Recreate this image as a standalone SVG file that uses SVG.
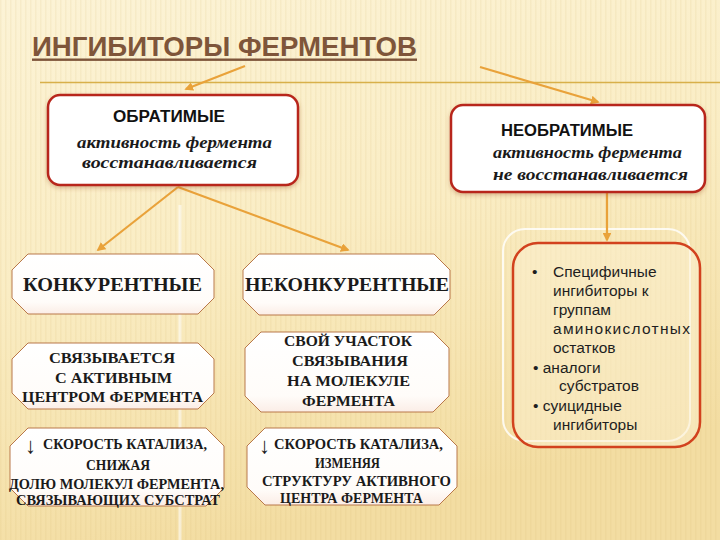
<svg xmlns="http://www.w3.org/2000/svg" width="720" height="540" viewBox="0 0 720 540">
<defs>
<linearGradient id="bg" x1="0" y1="0" x2="0.3" y2="1">
<stop offset="0" stop-color="#FCF3D6"/>
<stop offset="0.5" stop-color="#FAEDC4"/>
<stop offset="1" stop-color="#F3DDA2"/>
</linearGradient>
<pattern id="stripes" width="5" height="540" patternUnits="userSpaceOnUse">
<rect x="0" y="0" width="1.5" height="540" fill="#D9B86A" opacity="0.12"/>
</pattern>
<linearGradient id="oct" x1="0" y1="0" x2="0" y2="1">
<stop offset="0" stop-color="#FFFFFF"/>
<stop offset="0.8" stop-color="#FFFCF9"/>
<stop offset="1" stop-color="#FBEDE6"/>
</linearGradient>
<filter id="sh" x="-10%" y="-10%" width="120%" height="130%">
<feDropShadow dx="0" dy="2" stdDeviation="2" flood-color="#A0502A" flood-opacity="0.35"/>
</filter>
<marker id="ah" viewBox="0 0 10 10" refX="8" refY="5" markerWidth="4" markerHeight="4" orient="auto">
<path d="M0,0 L10,5 L0,10 Z" fill="#E9A23A"/>
</marker>
<style>
.conn{stroke:#E9A23A;stroke-width:2.2;fill:none;marker-end:url(#ah)}
.rbox{fill:#FFFFFF;stroke:#B8261C;stroke-width:2.5;filter:url(#sh)}
.oct{fill:url(#oct);stroke:#B9784A;stroke-width:1}
.hd{font-family:"Liberation Sans",Arial,sans-serif;font-weight:bold;font-size:16px;fill:#111}
.it{font-family:"Liberation Serif","Times New Roman",serif;font-style:italic;font-weight:bold;font-size:17px;fill:#1a1a1a}
.sv{font-family:"Liberation Serif","Times New Roman",serif;font-weight:bold;fill:#1a1a1a}
.big{font-size:18px}
.sm{font-size:14px}
.arr{font-size:22px;font-weight:normal}
.li{font-family:"Liberation Sans",Arial,sans-serif;font-size:15.5px;fill:#1e1e1e}
</style>
</defs>
<rect width="720" height="540" fill="url(#bg)"/>
<rect width="720" height="540" fill="url(#stripes)"/>
<line x1="180" y1="205" x2="180" y2="540" stroke="#FFFFFF" stroke-width="3" opacity="0.55"/>
<rect x="503" y="229" width="187" height="212" rx="22" fill="none" stroke="#FFFFFF" stroke-width="2" opacity="0.8"/>
<line x1="40" y1="82.5" x2="720" y2="82.5" stroke="#D8B04A" stroke-width="1.5"/>

<g id="title">
<text x="32" y="56" font-family="Liberation Sans, Arial, sans-serif" font-weight="bold" font-size="28" fill="#7E553A" textLength="385" lengthAdjust="spacingAndGlyphs">ИНГИБИТОРЫ ФЕРМЕНТОВ</text>
<rect x="32" y="58.5" width="385" height="2.4" fill="#7E553A"/>
</g>

<g id="connectors">
<line class="conn" x1="245" y1="66" x2="186" y2="89"/>
<line class="conn" x1="480" y1="67" x2="598" y2="102"/>
<line class="conn" x1="178" y1="187" x2="98" y2="250"/>
<line class="conn" x1="178" y1="187" x2="348" y2="250"/>
<line class="conn" x1="607" y1="193" x2="607" y2="240"/>
</g>

<g id="obratimye">
<rect class="rbox" x="48" y="95" width="250" height="90" rx="12"/>
<text class="hd" x="113" y="122" textLength="112" lengthAdjust="spacingAndGlyphs">ОБРАТИМЫЕ</text>
<text class="it" x="77" y="148" textLength="195" lengthAdjust="spacingAndGlyphs">активность фермента</text>
<text class="it" x="82" y="168" textLength="175" lengthAdjust="spacingAndGlyphs">восстанавливается</text>
</g>

<g id="neobratimye">
<rect class="rbox" x="451" y="105" width="254" height="87" rx="12"/>
<text class="hd" x="501" y="136" textLength="132" lengthAdjust="spacingAndGlyphs">НЕОБРАТИМЫЕ</text>
<text class="it" x="493" y="158" textLength="189" lengthAdjust="spacingAndGlyphs">активность фермента</text>
<text class="it" x="493" y="180" textLength="195" lengthAdjust="spacingAndGlyphs">не восстанавливается</text>
</g>

<g id="irreversible-list">
<rect x="513" y="243" width="187" height="204" rx="25" fill="#FCF0CF" fill-opacity="0.5" stroke="#D2421E" stroke-width="2.5"/>
<text class="li" x="532" y="277">•</text>
<text class="li" x="553" y="277">Специфичные</text>
<text class="li" x="553" y="296">ингибиторы  к</text>
<text class="li" x="553" y="315">группам</text>
<text class="li" x="553" y="334" textLength="137" lengthAdjust="spacing">аминокислотных</text>
<text class="li" x="553" y="353">остатков</text>
<text class="li" x="533" y="373">• аналоги</text>
<text class="li" x="559" y="391">субстратов</text>
<text class="li" x="533" y="411">• суицидные</text>
<text class="li" x="553" y="430">ингибиторы</text>
</g>

<g id="konkurentnye">
<path class="oct" d="M28,254 H198 L214,270 V298 L198,314 H28 L12,298 V270 Z"/>
<text class="sv big" x="23" y="291" textLength="179" lengthAdjust="spacingAndGlyphs">КОНКУРЕНТНЫЕ</text>
</g>

<g id="nekonkurentnye">
<path class="oct" d="M259,254 H434 L450,270 V299 L434,315 H259 L243,299 V270 Z"/>
<text class="sv big" x="245" y="291" textLength="204" lengthAdjust="spacingAndGlyphs">НЕКОНКУРЕНТНЫЕ</text>
</g>

<g id="svyazyvaetsya">
<path class="oct" d="M28,343 H198 L214,359 V393 L198,409 H28 L12,393 V359 Z"/>
<text class="sv sm" x="49" y="363" textLength="126" lengthAdjust="spacingAndGlyphs">СВЯЗЫВАЕТСЯ</text>
<text class="sv sm" x="55" y="383" textLength="117" lengthAdjust="spacingAndGlyphs">С АКТИВНЫМ</text>
<text class="sv sm" x="22" y="402" textLength="181" lengthAdjust="spacingAndGlyphs">ЦЕНТРОМ ФЕРМЕНТА</text>
</g>

<g id="svoy-uchastok">
<path class="oct" d="M261,332 H433 L449,348 V396 L433,412 H261 L245,396 V348 Z"/>
<text class="sv sm" x="284" y="346" textLength="128" lengthAdjust="spacingAndGlyphs">СВОЙ УЧАСТОК</text>
<text class="sv sm" x="292" y="366" textLength="116" lengthAdjust="spacingAndGlyphs">СВЯЗЫВАНИЯ</text>
<text class="sv sm" x="287" y="386" textLength="123" lengthAdjust="spacingAndGlyphs">НА МОЛЕКУЛЕ</text>
<text class="sv sm" x="302" y="406" textLength="93" lengthAdjust="spacingAndGlyphs">ФЕРМЕНТА</text>
</g>

<g id="skorost-snizhaya">
<path class="oct" d="M28,428 H206 L224,446 V488 L206,506 H28 L10,488 V446 Z"/>
<text class="sv arr" x="25" y="453">↓</text>
<text class="sv sm" x="43" y="449" textLength="164" lengthAdjust="spacingAndGlyphs">СКОРОСТЬ КАТАЛИЗА,</text>
<text class="sv sm" x="86" y="470" textLength="64" lengthAdjust="spacingAndGlyphs">СНИЖАЯ</text>
<text class="sv sm" x="9" y="489" textLength="215" lengthAdjust="spacingAndGlyphs">ДОЛЮ МОЛЕКУЛ ФЕРМЕНТА,</text>
<text class="sv sm" x="16" y="505" textLength="204" lengthAdjust="spacingAndGlyphs">СВЯЗЫВАЮЩИХ СУБСТРАТ</text>
</g>

<g id="skorost-izmenyaya">
<path class="oct" d="M265,428 H439 L457,446 V487 L439,505 H265 L247,487 V446 Z"/>
<text class="sv arr" x="259" y="453">↓</text>
<text class="sv sm" x="274" y="449" textLength="169" lengthAdjust="spacingAndGlyphs">СКОРОСТЬ КАТАЛИЗА,</text>
<text class="sv sm" x="315" y="468" textLength="65" lengthAdjust="spacingAndGlyphs">ИЗМЕНЯЯ</text>
<text class="sv sm" x="262" y="486" textLength="189" lengthAdjust="spacingAndGlyphs">СТРУКТУРУ АКТИВНОГО</text>
<text class="sv sm" x="280" y="503" textLength="143" lengthAdjust="spacingAndGlyphs">ЦЕНТРА ФЕРМЕНТА</text>
</g>
</svg>
